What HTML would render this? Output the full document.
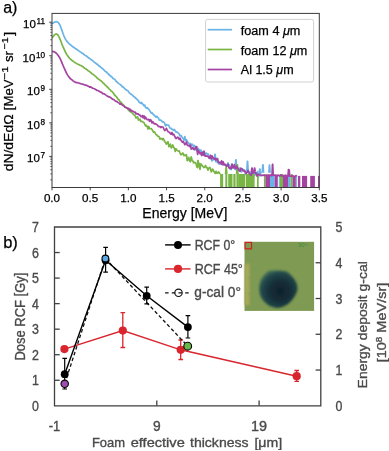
<!DOCTYPE html>
<html><head><meta charset="utf-8">
<style>
html,body{margin:0;padding:0;background:#fff;width:389px;height:451px;overflow:hidden}
svg{display:block;will-change:transform}
text{font-family:"Liberation Sans",sans-serif}
.bt text{stroke:#4a4a4a;stroke-width:0.35px}
.tt text{stroke:#000;stroke-width:0.25px}
</style></head>
<body>
<svg width="389" height="451" viewBox="0 0 389 451">
<rect width="389" height="451" fill="#fff"/>

<g font-family="Liberation Sans" fill="#000" class="tt">
<line x1="52.00" y1="187.5" x2="52.00" y2="190.3" stroke="#333" stroke-width="0.9"/><text x="52.00" y="202.4" font-size="11.5" text-anchor="middle" textLength="16.2" lengthAdjust="spacingAndGlyphs">0.0</text><line x1="90.19" y1="187.5" x2="90.19" y2="190.3" stroke="#333" stroke-width="0.9"/><text x="90.19" y="202.4" font-size="11.5" text-anchor="middle" textLength="16.2" lengthAdjust="spacingAndGlyphs">0.5</text><line x1="128.37" y1="187.5" x2="128.37" y2="190.3" stroke="#333" stroke-width="0.9"/><text x="128.37" y="202.4" font-size="11.5" text-anchor="middle" textLength="16.2" lengthAdjust="spacingAndGlyphs">1.0</text><line x1="166.56" y1="187.5" x2="166.56" y2="190.3" stroke="#333" stroke-width="0.9"/><text x="166.56" y="202.4" font-size="11.5" text-anchor="middle" textLength="16.2" lengthAdjust="spacingAndGlyphs">1.5</text><line x1="204.74" y1="187.5" x2="204.74" y2="190.3" stroke="#333" stroke-width="0.9"/><text x="204.74" y="202.4" font-size="11.5" text-anchor="middle" textLength="16.2" lengthAdjust="spacingAndGlyphs">2.0</text><line x1="242.93" y1="187.5" x2="242.93" y2="190.3" stroke="#333" stroke-width="0.9"/><text x="242.93" y="202.4" font-size="11.5" text-anchor="middle" textLength="16.2" lengthAdjust="spacingAndGlyphs">2.5</text><line x1="281.11" y1="187.5" x2="281.11" y2="190.3" stroke="#333" stroke-width="0.9"/><text x="281.11" y="202.4" font-size="11.5" text-anchor="middle" textLength="16.2" lengthAdjust="spacingAndGlyphs">3.0</text><line x1="319.30" y1="187.5" x2="319.30" y2="190.3" stroke="#333" stroke-width="0.9"/><text x="319.30" y="202.4" font-size="11.5" text-anchor="middle" textLength="16.2" lengthAdjust="spacingAndGlyphs">3.5</text><line x1="50.3" y1="179.85" x2="52" y2="179.85" stroke="#333" stroke-width="0.75"/><line x1="50.3" y1="173.94" x2="52" y2="173.94" stroke="#333" stroke-width="0.75"/><line x1="50.3" y1="169.75" x2="52" y2="169.75" stroke="#333" stroke-width="0.75"/><line x1="50.3" y1="166.50" x2="52" y2="166.50" stroke="#333" stroke-width="0.75"/><line x1="50.3" y1="163.84" x2="52" y2="163.84" stroke="#333" stroke-width="0.75"/><line x1="50.3" y1="161.60" x2="52" y2="161.60" stroke="#333" stroke-width="0.75"/><line x1="50.3" y1="159.65" x2="52" y2="159.65" stroke="#333" stroke-width="0.75"/><line x1="50.3" y1="157.94" x2="52" y2="157.94" stroke="#333" stroke-width="0.75"/><line x1="49.2" y1="156.40" x2="52" y2="156.40" stroke="#333" stroke-width="0.9"/><line x1="50.3" y1="146.30" x2="52" y2="146.30" stroke="#333" stroke-width="0.75"/><line x1="50.3" y1="140.39" x2="52" y2="140.39" stroke="#333" stroke-width="0.75"/><line x1="50.3" y1="136.20" x2="52" y2="136.20" stroke="#333" stroke-width="0.75"/><line x1="50.3" y1="132.95" x2="52" y2="132.95" stroke="#333" stroke-width="0.75"/><line x1="50.3" y1="130.29" x2="52" y2="130.29" stroke="#333" stroke-width="0.75"/><line x1="50.3" y1="128.05" x2="52" y2="128.05" stroke="#333" stroke-width="0.75"/><line x1="50.3" y1="126.10" x2="52" y2="126.10" stroke="#333" stroke-width="0.75"/><line x1="50.3" y1="124.39" x2="52" y2="124.39" stroke="#333" stroke-width="0.75"/><line x1="49.2" y1="122.85" x2="52" y2="122.85" stroke="#333" stroke-width="0.9"/><line x1="50.3" y1="112.75" x2="52" y2="112.75" stroke="#333" stroke-width="0.75"/><line x1="50.3" y1="106.84" x2="52" y2="106.84" stroke="#333" stroke-width="0.75"/><line x1="50.3" y1="102.65" x2="52" y2="102.65" stroke="#333" stroke-width="0.75"/><line x1="50.3" y1="99.40" x2="52" y2="99.40" stroke="#333" stroke-width="0.75"/><line x1="50.3" y1="96.74" x2="52" y2="96.74" stroke="#333" stroke-width="0.75"/><line x1="50.3" y1="94.50" x2="52" y2="94.50" stroke="#333" stroke-width="0.75"/><line x1="50.3" y1="92.55" x2="52" y2="92.55" stroke="#333" stroke-width="0.75"/><line x1="50.3" y1="90.84" x2="52" y2="90.84" stroke="#333" stroke-width="0.75"/><line x1="49.2" y1="89.30" x2="52" y2="89.30" stroke="#333" stroke-width="0.9"/><line x1="50.3" y1="79.20" x2="52" y2="79.20" stroke="#333" stroke-width="0.75"/><line x1="50.3" y1="73.29" x2="52" y2="73.29" stroke="#333" stroke-width="0.75"/><line x1="50.3" y1="69.10" x2="52" y2="69.10" stroke="#333" stroke-width="0.75"/><line x1="50.3" y1="65.85" x2="52" y2="65.85" stroke="#333" stroke-width="0.75"/><line x1="50.3" y1="63.19" x2="52" y2="63.19" stroke="#333" stroke-width="0.75"/><line x1="50.3" y1="60.95" x2="52" y2="60.95" stroke="#333" stroke-width="0.75"/><line x1="50.3" y1="59.00" x2="52" y2="59.00" stroke="#333" stroke-width="0.75"/><line x1="50.3" y1="57.29" x2="52" y2="57.29" stroke="#333" stroke-width="0.75"/><line x1="49.2" y1="55.75" x2="52" y2="55.75" stroke="#333" stroke-width="0.9"/><line x1="50.3" y1="45.65" x2="52" y2="45.65" stroke="#333" stroke-width="0.75"/><line x1="50.3" y1="39.74" x2="52" y2="39.74" stroke="#333" stroke-width="0.75"/><line x1="50.3" y1="35.55" x2="52" y2="35.55" stroke="#333" stroke-width="0.75"/><line x1="50.3" y1="32.30" x2="52" y2="32.30" stroke="#333" stroke-width="0.75"/><line x1="50.3" y1="29.64" x2="52" y2="29.64" stroke="#333" stroke-width="0.75"/><line x1="50.3" y1="27.40" x2="52" y2="27.40" stroke="#333" stroke-width="0.75"/><line x1="50.3" y1="25.45" x2="52" y2="25.45" stroke="#333" stroke-width="0.75"/><line x1="50.3" y1="23.74" x2="52" y2="23.74" stroke="#333" stroke-width="0.75"/><line x1="49.2" y1="22.20" x2="52" y2="22.20" stroke="#333" stroke-width="0.9"/><text x="45" y="28.10" font-size="11.5" text-anchor="end">10<tspan dx="0.6" dy="-4.1" font-size="8.2">11</tspan></text><text x="45" y="61.65" font-size="11.5" text-anchor="end">10<tspan dx="0.6" dy="-4.1" font-size="8.2">10</tspan></text><text x="45" y="95.20" font-size="11.5" text-anchor="end">10<tspan dx="0.6" dy="-4.1" font-size="8.2">9</tspan></text><text x="45" y="128.75" font-size="11.5" text-anchor="end">10<tspan dx="0.6" dy="-4.1" font-size="8.2">8</tspan></text><text x="45" y="162.30" font-size="11.5" text-anchor="end">10<tspan dx="0.6" dy="-4.1" font-size="8.2">7</tspan></text>
</g>
<svg x="0" y="0" width="389" height="451" overflow="hidden">
<clipPath id="cp"><rect x="52" y="13.4" width="267.3" height="174.1"/></clipPath>
<g clip-path="url(#cp)">
<path d="M52.00,23.49 L52.80,23.18 L53.60,22.80 L54.40,22.34 L55.20,21.94 L56.00,21.73 L56.80,21.70 L57.60,22.04 L58.40,22.68 L59.20,23.90 L60.00,25.34 L60.80,27.24 L61.60,29.38 L62.40,31.71 L63.20,33.99 L64.00,36.06 L64.80,37.91 L65.60,39.38 L66.40,40.64 L67.20,41.58 L68.00,42.49 L68.80,43.39 L69.60,44.10 L70.40,44.75 L71.20,45.44 L72.00,46.10 L72.80,46.78 L73.60,47.18 L74.40,47.74 L75.20,48.40 L76.00,48.80 L76.80,49.41 L77.60,50.07 L78.40,50.60 L79.20,51.12 L80.00,51.74 L80.80,51.95 L81.60,52.90 L82.40,53.26 L83.20,53.75 L84.00,54.52 L84.80,55.13 L85.60,55.57 L86.40,56.06 L87.20,56.75 L88.00,57.31 L88.80,58.05 L89.60,58.54 L90.40,59.05 L91.20,59.77 L92.00,60.21 L92.80,60.74 L93.60,61.60 L94.40,62.24 L95.20,62.77 L96.00,63.33 L96.80,64.13 L97.60,64.35 L98.40,65.49 L99.20,66.11 L100.00,66.41 L100.80,67.35 L101.60,67.85 L102.40,68.83 L103.20,69.05 L104.00,69.96 L104.80,70.97 L105.60,71.76 L106.40,71.86 L107.20,72.89 L108.00,73.76 L108.80,74.29 L109.60,75.44 L110.40,75.60 L111.20,76.63 L112.00,77.06 L112.80,78.29 L113.60,78.71 L114.40,79.36 L115.20,79.79 L116.00,81.25 L116.80,81.77 L117.60,82.50 L118.40,83.31 L119.20,83.85 L120.00,84.35 L120.80,85.02 L121.60,85.73 L122.40,86.95 L123.20,86.96 L124.00,87.85 L124.80,88.60 L125.60,89.42 L126.40,90.19 L127.20,90.37 L128.00,90.90 L128.80,92.08 L129.60,93.14 L130.40,93.70 L131.20,94.24 L132.00,94.76 L132.80,95.68 L133.60,96.20 L134.40,97.29 L135.20,97.41 L136.00,98.46 L136.80,99.08 L137.60,100.05 L138.40,100.63 L139.20,102.33 L140.00,102.60 L140.80,103.33 L141.60,102.45 L142.40,103.92 L143.20,104.50 L144.00,105.75 L144.80,105.09 L145.60,107.51 L146.40,108.19 L147.20,107.69 L148.00,108.58 L148.80,109.40 L149.60,110.59 L150.40,111.66 L151.20,113.20 L152.00,112.65 L152.80,113.94 L153.60,114.29 L154.40,115.97 L155.20,116.05 L156.00,117.13 L156.80,116.26 L157.60,117.50 L158.40,117.76 L159.20,119.98 L160.00,120.10 L160.80,120.12 L161.60,120.68 L162.40,121.99 L163.20,121.79 L164.00,122.24 L164.80,123.88 L165.60,125.96 L166.40,124.54 L167.20,124.90 L168.00,125.02 L168.80,125.48 L169.60,127.54 L170.40,128.41 L171.20,128.33 L172.00,129.20 L172.80,129.62 L173.60,130.25 L174.40,129.37 L175.20,130.92 L176.00,132.06 L176.80,131.85 L177.60,132.76 L178.40,133.06 L179.20,134.17 L180.00,135.99 L180.80,135.36 L181.60,136.25 L182.40,137.90 L183.20,138.37 L184.00,140.16 L184.80,136.67 L185.60,140.56 L186.40,139.70 L187.20,141.03 L188.00,142.48 L188.80,143.39 L189.60,143.96 L190.40,143.50 L191.20,145.86 L192.00,144.12 L192.80,144.88 L193.60,146.66 L194.40,145.51 L195.20,149.62 L196.00,148.73 L196.80,150.88 L197.60,148.52 L198.40,148.61 L199.20,149.94 L200.00,151.30 L200.80,149.99 L201.60,151.91 L202.40,151.88 L203.20,154.81 L204.00,152.00 L204.80,155.08 L205.60,153.07 L206.40,153.11 L207.20,154.02 L208.00,153.80 L208.80,156.42 L209.60,158.37 L210.40,157.52 L211.20,158.80 L212.00,160.95 L212.80,159.28 L213.60,159.65 L214.40,159.36 L215.20,157.65 L216.00,161.92 L216.80,158.25 L217.60,162.60 L218.40,161.95 L219.20,164.24 L220.00,162.71 L220.80,161.90 L221.60,164.27 L222.40,163.18 L223.20,164.24 L224.00,165.01 L224.80,165.08 L225.60,165.32 L226.40,164.53 L227.20,165.86 L228.00,162.84 L228.80,166.40 L229.60,164.90 L230.40,169.04 L231.20,169.54 L232.00,164.35 L232.80,168.14 L233.60,167.92 L234.40,166.61 L235.20,169.53 L236.00,168.09 L236.80,166.10 L237.60,168.91 L238.40,169.36 L239.20,170.04 L240.00,167.98 L240.80,171.38 L241.60,171.80 L242.40,168.75 L243.20,169.77 L244.00,170.95 L244.80,170.28 L245.60,174.48 L246.40,171.98 L247.20,170.02 L248.00,170.59 L248.80,172.04 L249.60,176.35 L250.40,172.18 L251.20,172.89 L252.00,173.75 L252.80,172.95 L253.60,177.24 L254.40,172.40 L255.20,174.80 L256.00,173.87 L256.80,174.79 L257.60,171.65 L258.40,177.01 L259.20,173.70 L260.00,174.06 L260.80,172.38 L261.60,172.80" fill="none" stroke="#6ab3e6" stroke-width="1.7" stroke-linejoin="round"/>
<rect x="270.00" y="175.80" width="4.70" height="12.70" fill="#6ab3e6"/>
<rect x="278.80" y="175.93" width="1.00" height="12.57" fill="#6ab3e6"/>
<rect x="288.10" y="176.07" width="2.60" height="12.43" fill="#6ab3e6"/>
<rect x="295.80" y="176.19" width="1.10" height="12.31" fill="#6ab3e6"/>
<path d="M214.30,158.08 L214.80,154.30 L215.20,154.30 L215.70,158.08" fill="none" stroke="#6ab3e6" stroke-width="1.5" stroke-linejoin="round"/>
<path d="M235.20,168.27 L235.70,159.70 L236.10,159.70 L236.60,168.27" fill="none" stroke="#6ab3e6" stroke-width="1.5" stroke-linejoin="round"/>
<path d="M246.80,170.24 L247.30,161.20 L247.70,161.20 L248.20,170.24" fill="none" stroke="#6ab3e6" stroke-width="1.5" stroke-linejoin="round"/>
<path d="M259.10,173.97 L259.60,168.90 L260.00,168.90 L260.50,173.97" fill="none" stroke="#6ab3e6" stroke-width="1.5" stroke-linejoin="round"/>
<path d="M262.20,172.80 L262.70,164.80 L263.10,164.80 L263.60,172.80" fill="none" stroke="#6ab3e6" stroke-width="1.5" stroke-linejoin="round"/>
<path d="M268.80,172.80 L269.30,165.00 L269.70,165.00 L270.20,172.80" fill="none" stroke="#6ab3e6" stroke-width="1.5" stroke-linejoin="round"/>
<path d="M52.00,37.81 L52.80,37.00 L53.60,36.06 L54.40,35.00 L55.20,34.26 L56.00,33.99 L56.80,34.12 L57.60,34.59 L58.40,35.76 L59.20,37.34 L60.00,39.06 L60.80,40.98 L61.60,43.17 L62.40,45.35 L63.20,47.23 L64.00,48.96 L64.80,50.76 L65.60,52.28 L66.40,53.77 L67.20,55.13 L68.00,56.31 L68.80,57.45 L69.60,58.31 L70.40,59.02 L71.20,59.76 L72.00,60.45 L72.80,60.89 L73.60,61.64 L74.40,62.14 L75.20,62.74 L76.00,63.09 L76.80,63.65 L77.60,64.05 L78.40,64.41 L79.20,64.72 L80.00,65.20 L80.80,65.51 L81.60,65.89 L82.40,66.55 L83.20,66.87 L84.00,67.72 L84.80,68.24 L85.60,68.45 L86.40,69.39 L87.20,69.78 L88.00,70.56 L88.80,71.17 L89.60,71.44 L90.40,72.34 L91.20,72.95 L92.00,73.79 L92.80,74.04 L93.60,75.03 L94.40,75.32 L95.20,76.10 L96.00,76.64 L96.80,77.72 L97.60,78.19 L98.40,79.21 L99.20,79.48 L100.00,80.17 L100.80,80.85 L101.60,81.25 L102.40,82.11 L103.20,83.21 L104.00,83.61 L104.80,84.54 L105.60,85.29 L106.40,86.25 L107.20,86.81 L108.00,87.66 L108.80,88.56 L109.60,89.33 L110.40,89.89 L111.20,91.19 L112.00,91.50 L112.80,92.44 L113.60,93.36 L114.40,94.95 L115.20,95.55 L116.00,96.35 L116.80,97.27 L117.60,98.69 L118.40,99.23 L119.20,100.14 L120.00,101.64 L120.80,101.98 L121.60,103.13 L122.40,104.07 L123.20,104.70 L124.00,105.64 L124.80,107.03 L125.60,107.02 L126.40,107.45 L127.20,107.93 L128.00,109.52 L128.80,110.21 L129.60,111.30 L130.40,111.62 L131.20,112.31 L132.00,112.83 L132.80,113.62 L133.60,114.73 L134.40,115.04 L135.20,116.04 L136.00,118.02 L136.80,117.67 L137.60,116.77 L138.40,120.03 L139.20,119.62 L140.00,119.23 L140.80,121.49 L141.60,121.42 L142.40,121.56 L143.20,122.23 L144.00,122.59 L144.80,124.27 L145.60,125.98 L146.40,125.31 L147.20,126.77 L148.00,129.00 L148.80,126.44 L149.60,128.71 L150.40,128.77 L151.20,128.60 L152.00,129.29 L152.80,131.08 L153.60,132.25 L154.40,131.81 L155.20,133.14 L156.00,134.57 L156.80,134.73 L157.60,136.07 L158.40,136.25 L159.20,136.94 L160.00,139.21 L160.80,138.43 L161.60,138.49 L162.40,139.85 L163.20,138.50 L164.00,139.86 L164.80,141.92 L165.60,142.36 L166.40,144.17 L167.20,142.87 L168.00,141.63 L168.80,146.66 L169.60,146.21 L170.40,144.05 L171.20,147.88 L172.00,146.77 L172.80,144.96 L173.60,147.45 L174.40,147.96 L175.20,151.42 L176.00,148.79 L176.80,150.11 L177.60,150.64 L178.40,151.06 L179.20,150.87 L180.00,153.01 L180.80,154.77 L181.60,154.70 L182.40,153.05 L183.20,153.29 L184.00,155.66 L184.80,155.03 L185.60,155.69 L186.40,154.71 L187.20,160.59 L188.00,159.63 L188.80,157.36 L189.60,160.70 L190.40,161.88 L191.20,156.76 L192.00,160.06 L192.80,160.81 L193.60,162.92 L194.40,162.25 L195.20,162.60 L196.00,163.38 L196.80,166.83 L197.60,167.72 L198.40,163.82 L199.20,163.45 L200.00,169.45 L200.80,163.81 L201.60,164.68 L202.40,165.83 L203.20,166.70 L204.00,167.68 L204.80,166.97 L205.60,165.45 L206.40,167.64 L207.20,167.69 L208.00,170.24 L208.80,168.37 L209.60,167.38 L210.40,168.39 L211.20,171.92 L212.00,170.26 L212.80,169.09 L213.60,171.17 L214.40,172.08 L215.20,173.45 L216.00,171.39 L216.80,173.07 L217.60,173.25 L218.40,172.02 L219.20,172.54 L220.00,174.16" fill="none" stroke="#79b545" stroke-width="1.7" stroke-linejoin="round"/>
<rect x="220.10" y="174.00" width="3.10" height="14.50" fill="#79b545"/>
<rect x="225.30" y="174.00" width="2.00" height="14.50" fill="#79b545"/>
<rect x="228.20" y="174.00" width="4.30" height="14.50" fill="#79b545"/>
<rect x="233.30" y="174.00" width="2.30" height="14.50" fill="#79b545"/>
<rect x="236.40" y="174.00" width="1.70" height="14.50" fill="#79b545"/>
<rect x="238.10" y="174.00" width="7.20" height="14.50" fill="#79b545"/>
<rect x="246.00" y="174.00" width="8.60" height="14.50" fill="#79b545"/>
<rect x="257.00" y="174.00" width="1.70" height="14.50" fill="#79b545"/>
<rect x="263.90" y="174.00" width="1.50" height="14.50" fill="#79b545"/>
<rect x="279.80" y="174.00" width="3.20" height="14.50" fill="#79b545"/>
<rect x="290.70" y="174.00" width="2.00" height="14.50" fill="#79b545"/>
<path d="M225.50,174.00 L226.00,167.30 L226.40,167.30 L226.90,174.00" fill="none" stroke="#79b545" stroke-width="1.5" stroke-linejoin="round"/>
<path d="M236.60,174.00 L237.10,164.80 L237.50,164.80 L238.00,174.00" fill="none" stroke="#79b545" stroke-width="1.5" stroke-linejoin="round"/>
<path d="M197.30,165.77 L197.80,160.50 L198.20,160.50 L198.70,165.77" fill="none" stroke="#79b545" stroke-width="1.5" stroke-linejoin="round"/>
<path d="M52.00,51.37 L52.80,51.47 L53.60,51.64 L54.40,51.92 L55.20,52.35 L56.00,52.96 L56.80,53.78 L57.60,54.72 L58.40,55.80 L59.20,57.03 L60.00,58.40 L60.80,60.12 L61.60,61.83 L62.40,63.89 L63.20,65.79 L64.00,67.65 L64.80,69.40 L65.60,71.24 L66.40,72.77 L67.20,74.44 L68.00,75.65 L68.80,76.85 L69.60,77.69 L70.40,78.78 L71.20,79.26 L72.00,79.90 L72.80,80.68 L73.60,81.13 L74.40,81.81 L75.20,82.04 L76.00,82.54 L76.80,82.60 L77.60,82.70 L78.40,83.03 L79.20,83.12 L80.00,83.56 L80.80,83.69 L81.60,83.96 L82.40,84.13 L83.20,84.31 L84.00,84.63 L84.80,85.07 L85.60,85.19 L86.40,85.41 L87.20,85.67 L88.00,86.09 L88.80,86.31 L89.60,87.05 L90.40,86.86 L91.20,87.21 L92.00,87.71 L92.80,88.26 L93.60,88.49 L94.40,88.75 L95.20,89.18 L96.00,89.66 L96.80,90.31 L97.60,90.32 L98.40,90.90 L99.20,91.18 L100.00,91.78 L100.80,92.21 L101.60,92.24 L102.40,93.55 L103.20,93.53 L104.00,93.85 L104.80,94.24 L105.60,94.87 L106.40,95.42 L107.20,96.04 L108.00,96.37 L108.80,96.98 L109.60,96.93 L110.40,97.62 L111.20,98.04 L112.00,98.82 L112.80,99.38 L113.60,99.35 L114.40,100.18 L115.20,100.91 L116.00,101.45 L116.80,101.35 L117.60,102.31 L118.40,102.73 L119.20,102.99 L120.00,104.19 L120.80,103.73 L121.60,104.47 L122.40,105.18 L123.20,105.59 L124.00,105.91 L124.80,106.95 L125.60,107.46 L126.40,107.74 L127.20,108.26 L128.00,108.30 L128.80,108.30 L129.60,110.21 L130.40,109.29 L131.20,111.19 L132.00,110.57 L132.80,111.19 L133.60,111.45 L134.40,112.47 L135.20,112.18 L136.00,113.86 L136.80,113.63 L137.60,113.89 L138.40,113.93 L139.20,114.86 L140.00,115.15 L140.80,116.73 L141.60,116.62 L142.40,115.55 L143.20,117.91 L144.00,115.90 L144.80,118.86 L145.60,117.07 L146.40,118.77 L147.20,119.77 L148.00,119.66 L148.80,119.35 L149.60,121.45 L150.40,119.72 L151.20,120.38 L152.00,122.94 L152.80,121.68 L153.60,122.97 L154.40,123.85 L155.20,123.58 L156.00,124.32 L156.80,124.64 L157.60,125.16 L158.40,126.42 L159.20,126.66 L160.00,126.58 L160.80,127.54 L161.60,126.71 L162.40,126.97 L163.20,127.22 L164.00,129.34 L164.80,130.64 L165.60,129.73 L166.40,128.29 L167.20,130.20 L168.00,131.66 L168.80,132.02 L169.60,132.34 L170.40,133.76 L171.20,134.23 L172.00,132.41 L172.80,134.78 L173.60,134.05 L174.40,135.61 L175.20,137.26 L176.00,138.48 L176.80,137.81 L177.60,137.04 L178.40,137.81 L179.20,139.42 L180.00,138.24 L180.80,139.91 L181.60,141.32 L182.40,142.30 L183.20,141.42 L184.00,142.84 L184.80,144.69 L185.60,143.96 L186.40,141.95 L187.20,145.03 L188.00,145.66 L188.80,145.32 L189.60,146.48 L190.40,144.93 L191.20,149.15 L192.00,148.53 L192.80,147.69 L193.60,149.29 L194.40,149.65 L195.20,148.72 L196.00,146.59 L196.80,146.80 L197.60,154.48 L198.40,150.31 L199.20,152.01 L200.00,153.74 L200.80,152.70 L201.60,155.44 L202.40,152.40 L203.20,155.07 L204.00,151.14 L204.80,155.91 L205.60,156.17 L206.40,155.95 L207.20,156.14 L208.00,156.39 L208.80,157.69 L209.60,158.16 L210.40,155.22 L211.20,158.92 L212.00,155.80 L212.80,158.02 L213.60,157.67 L214.40,159.32 L215.20,158.36 L216.00,160.08 L216.80,159.03 L217.60,158.67 L218.40,162.62 L219.20,162.23 L220.00,162.59 L220.80,163.82 L221.60,160.80 L222.40,164.68 L223.20,161.73 L224.00,164.66 L224.80,164.09 L225.60,165.24 L226.40,166.31 L227.20,165.43 L228.00,164.08 L228.80,167.60 L229.60,168.32 L230.40,167.75 L231.20,168.66 L232.00,164.04 L232.80,167.55 L233.60,167.51 L234.40,164.56 L235.20,168.48 L236.00,168.59 L236.80,166.21 L237.60,167.67 L238.40,169.60 L239.20,170.81 L240.00,171.28 L240.80,168.34 L241.60,168.65 L242.40,169.91 L243.20,170.97 L244.00,170.26 L244.80,171.18 L245.60,173.03 L246.40,173.21 L247.20,172.47 L248.00,170.41 L248.80,171.81 L249.60,173.94 L250.40,174.68 L251.20,175.15 L252.00,171.96 L252.80,173.17 L253.60,172.41 L254.40,170.48 L255.20,173.11 L256.00,172.57 L256.80,175.99 L257.60,175.05 L258.40,174.13 L259.20,174.75 L260.00,175.00 L260.80,175.72 L261.60,175.16 L262.40,175.45 L263.20,175.08 L264.00,175.43 L264.80,175.52 L265.60,175.36 L266.40,175.05 L267.20,175.49 L268.00,174.96 L268.80,175.68 L269.60,175.08 L270.40,174.96 L271.20,175.94 L272.00,175.13 L272.80,175.37 L273.60,174.96 L274.40,175.13 L275.20,175.29 L276.00,175.10 L276.80,175.90 L277.60,175.26 L278.40,175.11 L279.20,175.95 L280.00,175.84 L280.80,174.86 L281.60,175.48 L282.40,176.03 L283.20,175.48 L284.00,175.67 L284.80,175.72 L285.60,175.11 L286.40,175.58 L287.20,176.13 L288.00,176.37 L288.80,175.93 L289.60,175.95 L290.40,176.17 L291.20,176.08 L292.00,176.20 L292.80,175.81 L293.60,176.09 L294.40,176.24 L295.20,176.28 L296.00,175.69 L296.80,176.36" fill="none" stroke="#a543a3" stroke-width="1.7" stroke-linejoin="round"/>
<rect x="265.40" y="175.73" width="4.60" height="12.77" fill="#a543a3"/>
<rect x="274.70" y="175.87" width="3.10" height="12.63" fill="#a543a3"/>
<rect x="283.00" y="176.00" width="5.10" height="12.50" fill="#a543a3"/>
<rect x="292.70" y="176.14" width="3.10" height="12.36" fill="#a543a3"/>
<rect x="297.90" y="175.90" width="2.40" height="12.60" fill="#a543a3"/>
<rect x="302.00" y="175.90" width="5.10" height="12.60" fill="#a543a3"/>
<rect x="310.20" y="175.90" width="4.70" height="12.60" fill="#a543a3"/>
<rect x="318.00" y="175.90" width="1.50" height="12.60" fill="#a543a3"/>
<path d="M251.30,171.96 L251.80,167.90 L252.20,167.90 L252.70,171.96" fill="none" stroke="#a543a3" stroke-width="1.5" stroke-linejoin="round"/>
<path d="M253.90,171.14 L254.40,168.00 L254.80,168.00 L255.30,171.14" fill="none" stroke="#a543a3" stroke-width="1.5" stroke-linejoin="round"/>
<path d="M271.90,175.31 L272.40,164.30 L272.80,164.30 L273.30,175.31" fill="none" stroke="#a543a3" stroke-width="1.5" stroke-linejoin="round"/>
<path d="M288.40,175.94 L288.90,169.90 L289.30,169.90 L289.80,175.94" fill="none" stroke="#a543a3" stroke-width="1.5" stroke-linejoin="round"/>
<path d="M287.90,176.04 L288.40,169.40 L288.80,169.40 L289.30,176.04" fill="none" stroke="#a543a3" stroke-width="1.5" stroke-linejoin="round"/>
</g>
</svg>
<rect x="52" y="13.4" width="267.3" height="174.1" fill="none" stroke="#3a3a3a" stroke-width="1"/>
<rect x="205.6" y="19.4" width="108" height="62.6" rx="2" fill="#fff" fill-opacity="0.8" stroke="#d0d0d0" stroke-width="1"/>
<line x1="207.7" y1="29.7" x2="232" y2="29.7" stroke="#6ab3e6" stroke-width="1.7"/>
<line x1="207.7" y1="49.5" x2="232" y2="49.5" stroke="#79b545" stroke-width="1.7"/>
<line x1="207.7" y1="69.5" x2="232" y2="69.5" stroke="#a543a3" stroke-width="1.7"/>
<g font-family="Liberation Sans" font-size="12.3" fill="#000" class="tt">
<text x="240.8" y="35.4" textLength="59.6" lengthAdjust="spacingAndGlyphs">foam 4 <tspan font-style="italic">μ</tspan>m</text>
<text x="240.8" y="54.8" textLength="66.6" lengthAdjust="spacingAndGlyphs">foam 12 <tspan font-style="italic">μ</tspan>m</text>
<text x="240.8" y="74.2" textLength="52.8" lengthAdjust="spacingAndGlyphs">Al 1.5 <tspan font-style="italic">μ</tspan>m</text>
</g>
<g font-family="Liberation Sans" fill="#000" class="tt">
<text x="142.3" y="217.8" font-size="14" textLength="85" lengthAdjust="spacingAndGlyphs">Energy [MeV]</text>
<text transform="translate(12.7,171.3) rotate(-90)" font-size="13.6" textLength="64.6" lengthAdjust="spacingAndGlyphs">dN/dEdΩ [</text>
<text transform="translate(12.7,106.4) rotate(-90)" font-size="13.6" textLength="27" lengthAdjust="spacingAndGlyphs">MeV</text>
<text transform="translate(7.9,79.4) rotate(-90)" font-size="9.5" textLength="13.2" lengthAdjust="spacingAndGlyphs">−1</text>
<text transform="translate(12.7,62) rotate(-90)" font-size="13.6" textLength="11" lengthAdjust="spacingAndGlyphs">sr</text>
<text transform="translate(7.9,49.6) rotate(-90)" font-size="9.5" textLength="12.2" lengthAdjust="spacingAndGlyphs">−1</text>
<text transform="translate(12.7,36) rotate(-90)" font-size="13.6" textLength="4.3" lengthAdjust="spacingAndGlyphs">]</text>
<text x="3.2" y="12.7" font-size="16">a)</text>
<text x="3.2" y="247.7" font-size="16.5">b)</text>
</g>

<g font-family="Liberation Sans" class="bt">
<path d="M54.5,227.0 H320.8 V405.8 H54.5 Z" fill="none" stroke="#404040" stroke-width="1.3"/>
<text x="35.4" y="410.80" font-size="14" text-anchor="middle" fill="#4a4a4a" textLength="6.9" lengthAdjust="spacingAndGlyphs">0</text>
<line x1="54.5" y1="380.26" x2="59.7" y2="380.26" stroke="#404040" stroke-width="1.3"/>
<text x="35.4" y="385.26" font-size="14" text-anchor="middle" fill="#4a4a4a" textLength="6.9" lengthAdjust="spacingAndGlyphs">1</text>
<line x1="54.5" y1="354.71" x2="59.7" y2="354.71" stroke="#404040" stroke-width="1.3"/>
<text x="35.4" y="359.71" font-size="14" text-anchor="middle" fill="#4a4a4a" textLength="6.9" lengthAdjust="spacingAndGlyphs">2</text>
<line x1="54.5" y1="329.17" x2="59.7" y2="329.17" stroke="#404040" stroke-width="1.3"/>
<text x="35.4" y="334.17" font-size="14" text-anchor="middle" fill="#4a4a4a" textLength="6.9" lengthAdjust="spacingAndGlyphs">3</text>
<line x1="54.5" y1="303.63" x2="59.7" y2="303.63" stroke="#404040" stroke-width="1.3"/>
<text x="35.4" y="308.63" font-size="14" text-anchor="middle" fill="#4a4a4a" textLength="6.9" lengthAdjust="spacingAndGlyphs">4</text>
<line x1="54.5" y1="278.09" x2="59.7" y2="278.09" stroke="#404040" stroke-width="1.3"/>
<text x="35.4" y="283.09" font-size="14" text-anchor="middle" fill="#4a4a4a" textLength="6.9" lengthAdjust="spacingAndGlyphs">5</text>
<line x1="54.5" y1="252.54" x2="59.7" y2="252.54" stroke="#404040" stroke-width="1.3"/>
<text x="35.4" y="257.54" font-size="14" text-anchor="middle" fill="#4a4a4a" textLength="6.9" lengthAdjust="spacingAndGlyphs">6</text>
<text x="35.4" y="232.00" font-size="14" text-anchor="middle" fill="#4a4a4a" textLength="6.9" lengthAdjust="spacingAndGlyphs">7</text>
<text x="339" y="410.80" font-size="14" text-anchor="middle" fill="#4a4a4a" textLength="6.9" lengthAdjust="spacingAndGlyphs">0</text>
<line x1="315.6" y1="370.04" x2="320.8" y2="370.04" stroke="#404040" stroke-width="1.3"/>
<text x="339" y="375.04" font-size="14" text-anchor="middle" fill="#4a4a4a" textLength="6.9" lengthAdjust="spacingAndGlyphs">1</text>
<line x1="315.6" y1="334.28" x2="320.8" y2="334.28" stroke="#404040" stroke-width="1.3"/>
<text x="339" y="339.28" font-size="14" text-anchor="middle" fill="#4a4a4a" textLength="6.9" lengthAdjust="spacingAndGlyphs">2</text>
<line x1="315.6" y1="298.52" x2="320.8" y2="298.52" stroke="#404040" stroke-width="1.3"/>
<text x="339" y="303.52" font-size="14" text-anchor="middle" fill="#4a4a4a" textLength="6.9" lengthAdjust="spacingAndGlyphs">3</text>
<line x1="315.6" y1="262.76" x2="320.8" y2="262.76" stroke="#404040" stroke-width="1.3"/>
<text x="339" y="267.76" font-size="14" text-anchor="middle" fill="#4a4a4a" textLength="6.9" lengthAdjust="spacingAndGlyphs">4</text>
<text x="339" y="232.00" font-size="14" text-anchor="middle" fill="#4a4a4a" textLength="6.9" lengthAdjust="spacingAndGlyphs">5</text>
<line x1="156.80" y1="400.6" x2="156.80" y2="405.8" stroke="#404040" stroke-width="1.3"/>
<line x1="259.10" y1="400.6" x2="259.10" y2="405.8" stroke="#404040" stroke-width="1.3"/>
<text x="54.50" y="431" font-size="14" text-anchor="middle" fill="#4a4a4a" textLength="11.5" lengthAdjust="spacingAndGlyphs">-1</text>
<text x="156.80" y="431" font-size="14" text-anchor="middle" fill="#4a4a4a" textLength="7.7" lengthAdjust="spacingAndGlyphs">9</text>
<text x="259.10" y="431" font-size="14" text-anchor="middle" fill="#4a4a4a" textLength="16" lengthAdjust="spacingAndGlyphs">19</text>
<text x="91.9" y="446.6" font-size="13.3" fill="#4a4a4a" textLength="33.1" lengthAdjust="spacingAndGlyphs">Foam</text>
<text x="130.7" y="446.6" font-size="13.3" fill="#4a4a4a" textLength="54.1" lengthAdjust="spacingAndGlyphs">effective</text>
<text x="190" y="446.6" font-size="13.3" fill="#4a4a4a" textLength="58.6" lengthAdjust="spacingAndGlyphs">thickness</text>
<text x="254.4" y="446.6" font-size="13.3" fill="#4a4a4a" textLength="27.8" lengthAdjust="spacingAndGlyphs">[μm]</text>
<text transform="translate(24.6,360.5) rotate(-90)" font-size="14.3" fill="#4a4a4a" textLength="87.8" lengthAdjust="spacingAndGlyphs">Dose RCF [Gy]</text>
<text transform="translate(366.8,388.4) rotate(-90)" font-size="13.3" fill="#4a4a4a" textLength="127.2" lengthAdjust="spacingAndGlyphs">Energy deposit g-cal</text>
<text transform="translate(386.2,362.3) rotate(-90)" font-size="13.3" fill="#4a4a4a" textLength="79.6" lengthAdjust="spacingAndGlyphs">[10<tspan dy="-4.5" font-size="9">8</tspan><tspan dy="4.5"> MeV/sr]</tspan></text>
</g>

<defs>
<radialGradient id="blob" cx="0.55" cy="0.55" r="0.55">
<stop offset="0" stop-color="#0f222c"/>
<stop offset="0.5" stop-color="#152e38"/>
<stop offset="0.8" stop-color="#1f4246"/>
<stop offset="0.95" stop-color="#2a524f"/>
<stop offset="1" stop-color="#3a6656"/>
</radialGradient>
<filter id="blur1" x="-20%" y="-20%" width="140%" height="140%"><feGaussianBlur stdDeviation="1.1"/></filter>
</defs>
<rect x="244.5" y="241.8" width="69.6" height="69.1" fill="#7f9a52"/>
<path d="M244.8,263.8 H249.6 V276.5 L248.2,277.8 L249.6,279 V292.6 L248.2,293.8 L249.6,295 V305.3 H244.8 Z" fill="#a6a95a" filter="url(#blur1)"/>
<path d="M269,271 C275,270.3 282,270.5 287,271.5 C291,275 295,279 296.5,283 C297.8,286 297.8,290 296.5,293 C294,298 291,302 287.5,304.5 C283,307 280,308 277,308 C272,307.5 268,305.5 265,302.5 C262,299.5 260,296 259.4,292 C258.8,288 259.2,284 260.5,280.5 C262.5,276.5 265.5,273 269,271 Z" fill="url(#blob)" filter="url(#blur1)"/>
<rect x="245.1" y="242.4" width="6.4" height="6.4" fill="none" stroke="#d02020" stroke-width="1.2"/>
<text x="298" y="246.6" font-family="Liberation Sans" font-size="6" fill="#2f8a3a" opacity="0.8">30°-</text>

<polyline points="64.4,349.1 122.8,330.6 180.7,349.8 296.7,376.2" fill="none" stroke="#d9252e" stroke-width="1.4"/>
<path d="M122.8,312.7 V347.5 M120.5,312.7 H125.1 M120.5,347.5 H125.1" stroke="#d9252e" stroke-width="1.3" fill="none"/>
<path d="M180.7,340 V359.5 M178.39999999999998,340 H183.0 M178.39999999999998,359.5 H183.0" stroke="#d9252e" stroke-width="1.3" fill="none"/>
<path d="M296.7,370.5 V381.3 M294.4,370.5 H299.0 M294.4,381.3 H299.0" stroke="#d9252e" stroke-width="1.3" fill="none"/>
<circle cx="64.4" cy="349.1" r="4.1" fill="#d9252e"/>
<circle cx="122.8" cy="330.6" r="4.1" fill="#d9252e"/>
<circle cx="180.7" cy="349.8" r="4.1" fill="#d9252e"/>
<circle cx="296.7" cy="376.2" r="4.1" fill="#d9252e"/>
<polyline points="64.7,383.8 105.4,258.5 187.7,346.2" fill="none" stroke="#111" stroke-width="1.3" stroke-dasharray="3.5,2.5"/>
<polyline points="64.7,374.2 105.6,260.3 146.7,295.8 187.9,327.1" fill="none" stroke="#000" stroke-width="1.4"/>
<path d="M64.7,358.4 V389 M62.400000000000006,358.4 H67.0 M62.400000000000006,389 H67.0" stroke="#000" stroke-width="1.2" fill="none"/>
<path d="M105.6,247.4 V272.1 M103.3,247.4 H107.89999999999999 M103.3,272.1 H107.89999999999999" stroke="#000" stroke-width="1.2" fill="none"/>
<path d="M146.7,287.2 V303.8 M144.39999999999998,287.2 H149.0 M144.39999999999998,303.8 H149.0" stroke="#000" stroke-width="1.2" fill="none"/>
<path d="M187.9,315.6 V338 M185.6,315.6 H190.20000000000002 M185.6,338 H190.20000000000002" stroke="#000" stroke-width="1.2" fill="none"/>
<circle cx="64.7" cy="374.2" r="3.9" fill="#000"/>
<circle cx="105.6" cy="260.3" r="3.9" fill="#000"/>
<circle cx="146.7" cy="295.8" r="3.9" fill="#000"/>
<circle cx="187.9" cy="327.1" r="3.9" fill="#000"/>
<circle cx="64.7" cy="383.8" r="3.7" fill="#9b4fae" stroke="#000" stroke-width="1.1"/>
<circle cx="105.4" cy="258.5" r="3.4" fill="#5aa8e6" stroke="#000" stroke-width="1.1"/>
<circle cx="187.7" cy="346.2" r="3.9" fill="#6ab64a" stroke="#000" stroke-width="1.1"/>

<line x1="165.1" y1="244.9" x2="190.6" y2="244.9" stroke="#000" stroke-width="1.4"/>
<circle cx="178" cy="244.9" r="4" fill="#000"/>
<line x1="165.1" y1="268.9" x2="190.6" y2="268.9" stroke="#d9252e" stroke-width="1.4"/>
<circle cx="178" cy="268.9" r="4.1" fill="#d9252e"/>
<circle cx="178.5" cy="292.8" r="3.7" fill="#fff" stroke="#111" stroke-width="1.1"/>
<line x1="165.1" y1="292.8" x2="189.1" y2="292.8" stroke="#111" stroke-width="1.3" stroke-dasharray="3.5 3.2"/>
<g font-family="Liberation Sans" font-size="14" fill="#4a4a4a" class="bt">
<text x="194.7" y="249.7" textLength="40.5" lengthAdjust="spacingAndGlyphs">RCF 0°</text>
<text x="194.7" y="273.5" textLength="48.2" lengthAdjust="spacingAndGlyphs">RCF 45°</text>
<text x="194.3" y="296.8" textLength="46.7" lengthAdjust="spacingAndGlyphs">g-cal 0°</text>
</g>

</svg>
</body></html>
